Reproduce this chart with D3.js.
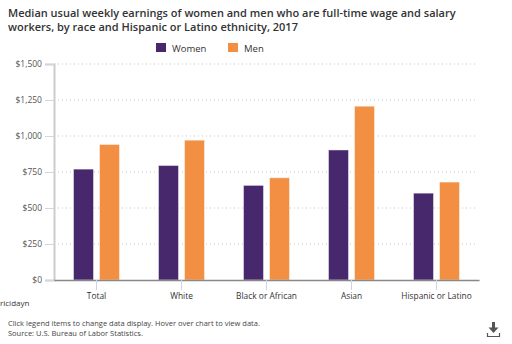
<!DOCTYPE html>
<html>
<head>
<meta charset="utf-8">
<script src="https://cdn.jsdelivr.net/npm/d3@7"></script>
<style>
  body { margin: 0; background: #fff; }
  svg { font-family: "Open Sans", "Noto Sans", sans-serif; display: block; }
</style>
</head>
<body>
<svg id="chart"></svg>
<script>
const categories = ["Total", "White", "Black or African", "Asian", "Hispanic or Latino"];
const series = ["Women", "Men"];
const women = [770, 795, 657, 903, 603];
const men = [941, 971, 710, 1207, 680];
const yTicks = [0, 250, 500, 750, 1000, 1250, 1500];

const colors = { Women: "#48286c", Men: "#f28f43" };
const width = 512;
const height = 344;
const plot = { left: 54, right: 479, top: 64, bottom: 280 };

const svg = d3.select("#chart").attr("width", width).attr("height", height);

// title
const title = svg.append("text").attr("x", 8).attr("fill", "#333")
  .style("font-size", "11px").style("font-weight", 600);
title.append("tspan").attr("x", 8).attr("y", 17)
  .text("Median usual weekly earnings of women and men who are full-time wage and salary");
title.append("tspan").attr("x", 8).attr("y", 31)
  .text("workers, by race and Hispanic or Latino ethnicity, 2017");

// legend
const legend = svg.append("g").selectAll("g").data(series).join("g")
  .attr("transform", (d, i) => `translate(${156 + i * 72},43)`);
legend.append("rect").attr("width", 10).attr("height", 9).attr("fill", (d) => colors[d]);
legend.append("text").attr("x", 16).attr("y", 8.5).attr("fill", "#333")
  .style("font-size", "9.5px").text((d) => d);

const x = d3.scaleBand().domain(categories).range([plot.left, plot.right]);
const x1 = d3.scaleBand().domain(series).range([0, 46]).paddingInner(6 / 26);
const y = d3.scaleLinear().domain([0, 1500]).range([plot.bottom, plot.top]);
const inset = (x.bandwidth() - 46) / 2;

// gridlines
svg.append("g").selectAll("line").data(yTicks.slice(1)).join("line")
  .attr("x1", plot.left).attr("x2", plot.right - 1)
  .attr("y1", (d) => y(d)).attr("y2", (d) => y(d))
  .attr("stroke", "#c8c8c8").attr("stroke-dasharray", "1,3");

// y axis
const yAxis = svg.append("g").attr("transform", `translate(${plot.left},0)`)
  .call(d3.axisLeft(y).tickValues(yTicks).tickSize(9).tickPadding(3)
    .tickFormat((d) => "$" + d3.format(",")(d)));
yAxis.select(".domain").attr("stroke", "#ccc").attr("stroke-width", 2);
yAxis.selectAll(".tick line").attr("stroke", "#ccd6eb");
yAxis.selectAll(".tick text").attr("fill", "#555")
  .style("font-size", "8.5px").style("font-family", "\"Open Sans\", sans-serif");

// bars
const rows = categories.map((c, i) => ({ cat: c, Women: women[i], Men: men[i] }));
svg.append("g").selectAll("g").data(rows).join("g")
  .attr("transform", (d) => `translate(${x(d.cat) + inset},0)`)
  .selectAll("rect")
  .data((d) => series.map((s) => ({ s, v: d[s] })))
  .join("rect")
  .attr("x", (d) => x1(d.s))
  .attr("width", x1.bandwidth())
  .attr("y", (d) => y(d.v))
  .attr("height", (d) => y(0) - y(d.v))
  .attr("fill", (d) => colors[d.s])
  .attr("stroke", "rgba(255,255,255,0.45)")
  .attr("stroke-width", 1);

// x axis
const xAxis = svg.append("g").attr("transform", `translate(0,${plot.bottom})`)
  .call(d3.axisBottom(x).tickSize(10).tickSizeOuter(0).tickPadding(3));
xAxis.select(".domain").attr("stroke", "#888").attr("stroke-width", 1.5);
xAxis.selectAll(".tick line").attr("stroke", "#ccd6eb");
xAxis.selectAll(".tick text").attr("fill", "#333")
  .style("font-size", "8.4px").style("font-family", "\"Open Sans\", sans-serif");

// clipped leftover label at the left edge
svg.append("text").attr("x", 0).attr("y", 306).attr("fill", "#333")
  .style("font-size", "8px").text("ricidayn");

// footer notes
const notes = ["Click legend items to change data display. Hover over chart to view data.",
  "Source: U.S. Bureau of Labor Statistics."];
svg.append("g").selectAll("text").data(notes).join("text")
  .attr("x", 8).attr("y", (d, i) => 326 + i * 10)
  .attr("fill", "#444").style("font-size", "7.5px").text((d) => d);

// download icon
const icon = svg.append("g").attr("transform", "translate(487,322)").attr("fill", "#555");
icon.append("rect").attr("x", 5).attr("y", 0).attr("width", 3).attr("height", 6);
icon.append("path").attr("d", "M1.5,5.5 L11.5,5.5 L6.5,11 Z");
icon.append("path").attr("d", "M0.5,11 V14.5 H12.5 V11").attr("fill", "none")
  .attr("stroke", "#555").attr("stroke-width", 1.2);
</script>
</body>
</html>
